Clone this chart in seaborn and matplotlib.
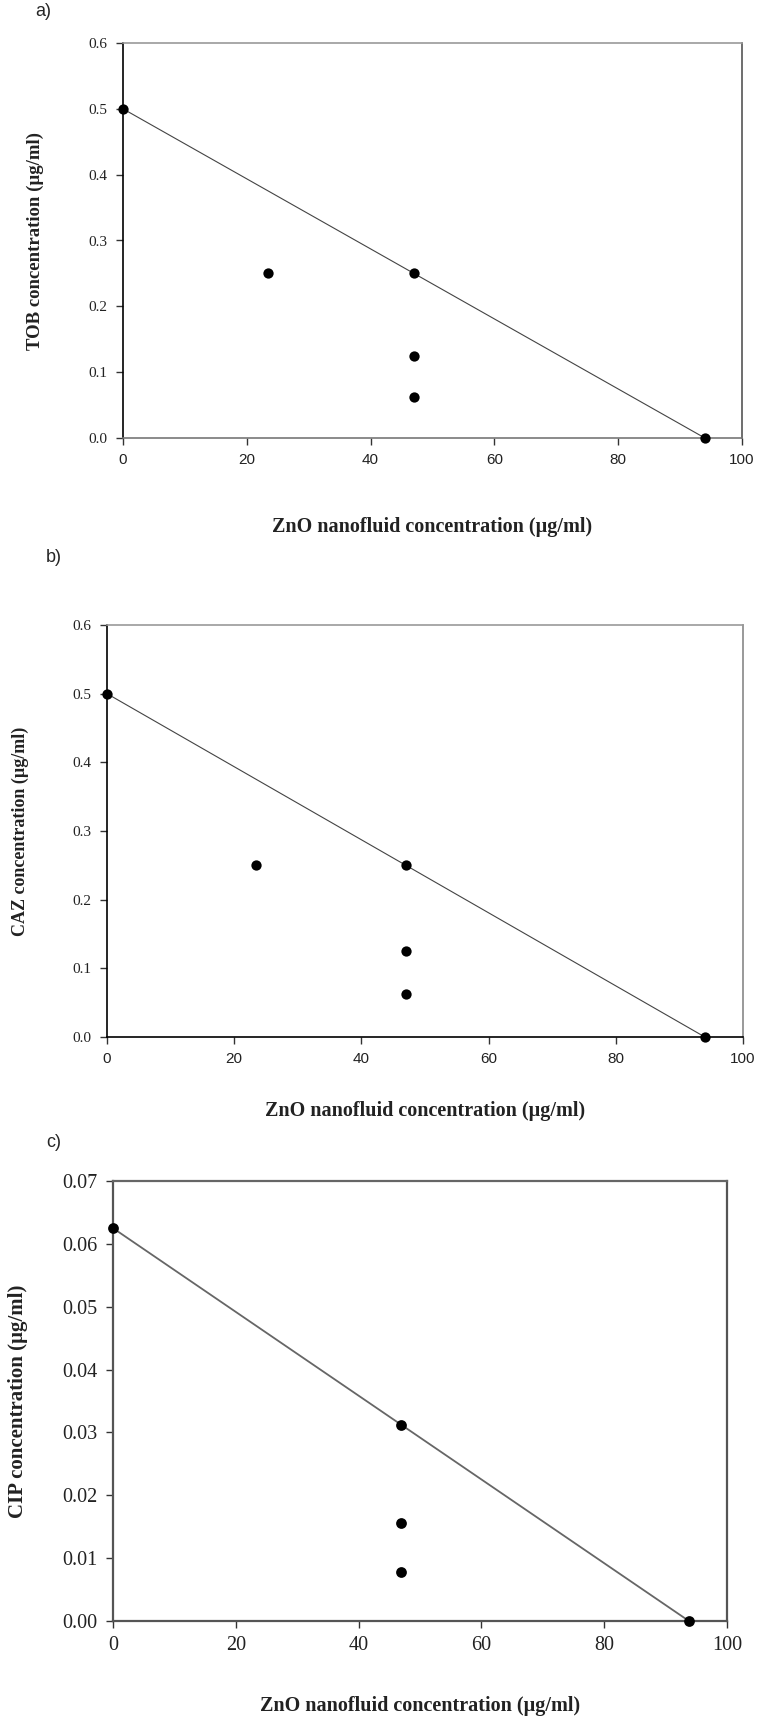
import numpy as np
import pandas as pd
import matplotlib
matplotlib.use("Agg")
import matplotlib.pyplot as plt
import seaborn as sns

# =====================================
# DATA
# =====================================

zno_ab = [0, 23.5, 47, 47, 47, 94]
tob = [0.5, 0.25, 0.25, 0.125, 0.0625, 0.0]
caz = [0.5, 0.25, 0.25, 0.125, 0.0625, 0.0]

zno_c = [0, 46.9, 46.9, 46.9, 93.8]
cip = [0.0625, 0.03125, 0.015625, 0.0078, 0.0]

line_ab_x = [0, 94]
line_ab_y = [0.5, 0.0]
line_c_x = [0, 93.8]
line_c_y = [0.0625, 0.0]

x_ticks = [0, 20, 40, 60, 80, 100]
y_ticks_ab = [0.0, 0.1, 0.2, 0.3, 0.4, 0.5, 0.6]
y_ticks_c = [0.00, 0.01, 0.02, 0.03, 0.04, 0.05, 0.06, 0.07]

xlabel = "ZnO nanofluid concentration (µg/ml)"

# =====================================
# FIGURE
# =====================================

sns.set_theme(style="white")
plt.rcParams['font.family'] = ['Liberation Serif', 'DejaVu Serif']

W, H = 762, 1717
fig = plt.figure(figsize=(W / 100, H / 100), dpi=100)
fig.patch.set_facecolor("white")


def px_axes(left, top, right, bottom):
    return fig.add_axes([left / W, 1 - bottom / H, (right - left) / W, (bottom - top) / H])


SERIF = ['Liberation Serif', 'DejaVu Serif']
SANS = ['Liberation Sans', 'DejaVu Sans']


def style_panel(ax, yticks, yfmt, xfont, yfont, size, spine_cols, lw):
    ax.set_xlim(0, 100)
    ax.set_ylim(yticks[0], yticks[-1])
    ax.set_xticks(x_ticks)
    ax.set_yticks(yticks)
    ax.set_yticklabels([yfmt.format(v) for v in yticks], family=yfont, fontsize=size, color="#222222")
    ax.set_xticklabels([str(v) for v in x_ticks], family=xfont, fontsize=size, color="#222222")
    ax.tick_params(axis="both", direction="out", length=5, width=1, color="#333333",
                   left=True, bottom=True, pad=6)
    for side, col in spine_cols.items():
        ax.spines[side].set_visible(True)
        ax.spines[side].set_color(col)
        ax.spines[side].set_linewidth(lw)
    ax.set_facecolor("white")


# =====================================
# PANEL A - TOB
# =====================================

ax_a = px_axes(123, 43, 742, 438)
sns.lineplot(x=line_ab_x, y=line_ab_y, ax=ax_a, color="#444444", linewidth=0.8,
             sort=False, estimator=None)
sns.scatterplot(x=zno_ab, y=tob, ax=ax_a, color="black", s=55, edgecolor="black",
                linewidth=0, clip_on=False, zorder=5)
style_panel(ax_a, y_ticks_ab, "{:.1f}", SANS, SERIF, 11,
            {"left": "black", "bottom": "#777777", "top": "#999999", "right": "#555555"}, 1.2)
ax_a.set_ylabel("TOB concentration (µg/ml)", family=SERIF, fontsize=13.5,
                fontweight="bold", color="#222222")
ax_a.yaxis.set_label_coords(-0.128, 0.5)
ax_a.set_xlabel(xlabel, family=SERIF, fontsize=14.5, fontweight="bold", color="#222222")
ax_a.xaxis.set_label_coords(0.5, -0.2)
fig.text(35 / W, 1 - 12 / H, "a)", family=SANS, fontsize=13, va="center", ha="left")

# =====================================
# PANEL B - CAZ
# =====================================

ax_b = px_axes(107, 625, 743, 1037)
sns.lineplot(x=line_ab_x, y=line_ab_y, ax=ax_b, color="#444444", linewidth=0.8,
             sort=False, estimator=None)
sns.scatterplot(x=zno_ab, y=caz, ax=ax_b, color="black", s=55, edgecolor="black",
                linewidth=0, clip_on=False, zorder=5)
style_panel(ax_b, y_ticks_ab, "{:.1f}", SANS, SERIF, 11,
            {"left": "black", "bottom": "black", "top": "#999999", "right": "#888888"}, 1.2)
ax_b.set_ylabel("CAZ concentration (µg/ml)", family=SERIF, fontsize=13,
                fontweight="bold", color="#222222")
ax_b.yaxis.set_label_coords(-0.123, 0.5)
ax_b.set_xlabel(xlabel, family=SERIF, fontsize=14.5, fontweight="bold", color="#222222")
ax_b.xaxis.set_label_coords(0.5, -0.155)
fig.text(46 / W, 1 - 557 / H, "b)", family=SANS, fontsize=13, va="center", ha="left")

# =====================================
# PANEL C - CIP
# =====================================

ax_c = px_axes(113, 1181, 727, 1621)
sns.lineplot(x=line_c_x, y=line_c_y, ax=ax_c, color="#666666", linewidth=1.3,
             sort=False, estimator=None)
sns.scatterplot(x=zno_c, y=cip, ax=ax_c, color="black", s=60, edgecolor="black",
                linewidth=0, clip_on=False, zorder=5)
style_panel(ax_c, y_ticks_c, "{:.2f}", SERIF, SERIF, 14.5,
            {"left": "#555555", "bottom": "#555555", "top": "#666666", "right": "#555555"}, 1.6)
ax_c.set_ylabel("CIP concentration (µg/ml)", family=SERIF, fontsize=15,
                fontweight="bold", color="#222222")
ax_c.yaxis.set_label_coords(-0.138, 0.5)
ax_c.set_xlabel(xlabel, family=SERIF, fontsize=14.5, fontweight="bold", color="#222222")
ax_c.xaxis.set_label_coords(0.5, -0.17)
fig.text(46 / W, 1 - 1142 / H, "c)", family=SANS, fontsize=13, va="center", ha="left")

fig.savefig("out.png", dpi=100, facecolor="white")
